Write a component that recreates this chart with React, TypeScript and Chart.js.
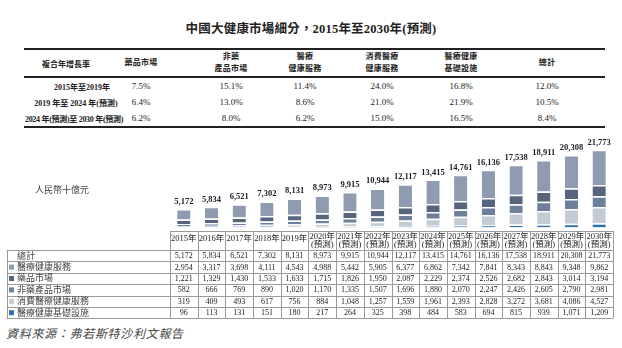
import React, { useEffect, useRef } from "react";
import { Chart, registerables } from "chart.js";

Chart.register(...registerables);

// ---------- DATA ----------
const years = ["2015年", "2016年", "2017年", "2018年", "2019年", "2020年", "2021年", "2022年", "2023年", "2024年", "2025年", "2026年", "2027年", "2028年", "2029年", "2030年"];
const forecastStartIndex = 5; // 2020 onward labelled (預測)
const forecastNote = "(預測)";

const totals = [5172, 5834, 6521, 7302, 8131, 8973, 9915, 10944, 12117, 13415, 14761, 16136, 17538, 18911, 20308, 21773];
const healthServices = [2954, 3317, 3698, 4111, 4543, 4988, 5442, 5905, 6377, 6862, 7342, 7841, 8343, 8843, 9348, 9862];
const pharma = [1221, 1329, 1430, 1533, 1633, 1715, 1826, 1950, 2087, 2229, 2374, 2526, 2682, 2843, 3014, 3194];
const nonPharma = [582, 666, 769, 890, 1020, 1170, 1335, 1507, 1696, 1880, 2070, 2247, 2426, 2605, 2790, 2981];
const consumer = [319, 409, 493, 617, 756, 884, 1048, 1257, 1559, 1961, 2393, 2828, 3272, 3681, 4086, 4527];
const infra = [96, 113, 131, 151, 180, 217, 264, 325, 398, 484, 583, 694, 815, 939, 1071, 1209];

const seriesNames = ["醫療健康服務", "藥品市場", "非藥產品市場", "消費醫療健康服務", "醫療健康基礎設施"];
const totalLabel = "總計";

const title = "中國大健康市場細分，2015年至2030年(預測)";
const unitLabel = "人民幣十億元";
const sourceText = "資料來源：弗若斯特沙利文報告";

const cagrHeader = "複合年增長率";
const cagrColumns = ["藥品市場", "非藥\n產品市場", "醫療\n健康服務", "消費醫療\n健康服務", "醫療健康\n基礎設施", "總計"];
const cagrPeriods = ["2015年至2019年", "2019 年至 2024 年(預測)", "2024 年(預測)至 2030 年(預測)"];
const cagrPharma = ["7.5%", "6.4%", "6.2%"];
const cagrNonPharma = ["15.1%", "13.0%", "8.0%"];
const cagrHealthServices = ["11.4%", "8.6%", "6.2%"];
const cagrConsumer = ["24.0%", "21.0%", "15.0%"];
const cagrInfra = ["16.8%", "21.9%", "16.5%"];
const cagrTotal = ["12.0%", "10.5%", "8.4%"];

// ---------- STYLE ----------
const colors = {
  healthServices: "#8e9bb1",
  pharma: "#56657d",
  nonPharma: "#6c7f9b",
  consumer: "#c3cbd5",
  infra: "#2f6fae",
};
const serif = '"Liberation Serif", "Noto Sans CJK TC", serif';
const fmt = (v: number) => v.toLocaleString("en-US");

const CANVAS_TOP = 130;
const CANVAS_H = 190;

const tablePlugin = {
  id: "tablePlugin",
  afterDraw(chart: any) {
    const { ctx, chartArea, scales } = chart;
    const x = scales.x;
    const n = years.length;
    const colW = (chartArea.right - chartArea.left) / n;
    ctx.save();

    // totals above bars
    const topMeta = chart.getDatasetMeta(chart.data.datasets.length - 1);
    ctx.fillStyle = "#1a1a2a";
    ctx.font = `bold 8.5px ${serif}`;
    ctx.textAlign = "center";
    ctx.textBaseline = "bottom";
    topMeta.data.forEach((bar: any, i: number) => {
      ctx.fillText(fmt(totals[i]), bar.x, bar.y - 3);
    });

    // unit label
    ctx.fillStyle = "#444";
    ctx.font = `9px ${serif}`;
    ctx.textAlign = "left";
    ctx.textBaseline = "middle";
    ctx.fillText(unitLabel, 35, 191 - CANVAS_TOP);

    // data table
    const headTop = 101;
    const headBottom = 120;
    const rowH = 11.4;
    const rows = [totals, healthServices, pharma, nonPharma, consumer, infra];
    const rowLabels = [totalLabel, ...seriesNames];
    const swatches = [null, colors.healthServices, colors.pharma, colors.nonPharma, colors.consumer, colors.infra];
    const tableLeft = 6.5;
    const gridLeft = chartArea.left;
    const gridRight = chartArea.right;
    const tableBottom = headBottom + rowH * rows.length;

    ctx.strokeStyle = "#9a9a9a";
    ctx.lineWidth = 1;
    const hline = (x1: number, x2: number, y: number) => {
      ctx.beginPath();
      ctx.moveTo(x1, Math.round(y) + 0.5);
      ctx.lineTo(x2, Math.round(y) + 0.5);
      ctx.stroke();
    };
    const vline = (xx: number, y1: number, y2: number) => {
      ctx.beginPath();
      ctx.moveTo(Math.round(xx) + 0.5, y1);
      ctx.lineTo(Math.round(xx) + 0.5, y2);
      ctx.stroke();
    };
    hline(gridLeft, gridRight, headTop);
    hline(tableLeft, gridRight, headBottom);
    for (let r = 1; r <= rows.length; r++) hline(tableLeft, gridRight, headBottom + rowH * r);
    vline(tableLeft, headBottom, tableBottom);
    for (let i = 0; i <= n; i++) {
      const xx = i < n ? x.getPixelForValue(i) - colW / 2 : x.getPixelForValue(n - 1) + colW / 2;
      vline(xx, headTop, tableBottom);
    }

    // header years
    ctx.fillStyle = "#222";
    ctx.textAlign = "center";
    ctx.textBaseline = "middle";
    ctx.font = `8.5px ${serif}`;
    years.forEach((yr, i) => {
      const cx = x.getPixelForValue(i);
      if (i >= forecastStartIndex) {
        ctx.fillText(yr, cx, headTop + 5.5);
        ctx.fillText(forecastNote, cx, headTop + 14);
      } else {
        ctx.fillText(yr, cx, headTop + 7.5);
      }
    });

    // rows
    rows.forEach((vals, r) => {
      const cy = headBottom + rowH * (r + 0.5);
      ctx.font = `8px ${serif}`;
      ctx.textAlign = "center";
      ctx.fillStyle = "#222";
      vals.forEach((v, i) => ctx.fillText(fmt(v), x.getPixelForValue(i), cy + 0.5));
      ctx.textAlign = "left";
      ctx.fillStyle = "#444";
      ctx.font = `9px ${serif}`;
      const sw = swatches[r];
      if (sw) {
        ctx.fillStyle = sw;
        ctx.fillRect(9, cy - 2.5, 5, 5);
        ctx.fillStyle = "#444";
      }
      ctx.fillText(rowLabels[r], 17, cy + 0.5);
    });

    ctx.restore();
  },
};

function ChartBlock() {
  const ref = useRef<HTMLCanvasElement | null>(null);
  useEffect(() => {
    if (!ref.current) return;
    const border = { top: 1.5, left: 0, right: 0, bottom: 0 };
    const chart = new Chart(ref.current, {
      type: "bar",
      data: {
        labels: years,
        datasets: [
          { label: seriesNames[4], data: infra, backgroundColor: colors.infra, borderColor: "#fff", borderWidth: border },
          { label: seriesNames[3], data: consumer, backgroundColor: colors.consumer, borderColor: "#fff", borderWidth: border },
          { label: seriesNames[2], data: nonPharma, backgroundColor: colors.nonPharma, borderColor: "#fff", borderWidth: border },
          { label: seriesNames[1], data: pharma, backgroundColor: colors.pharma, borderColor: "#fff", borderWidth: border },
          { label: seriesNames[0], data: healthServices, backgroundColor: colors.healthServices, borderColor: "#fff", borderWidth: border },
        ],
      },
      options: {
        animation: false,
        responsive: false,
        maintainAspectRatio: false,
        layout: { padding: { left: 170, right: 9, top: 10, bottom: 92.5 } },
        plugins: { legend: { display: false }, tooltip: { enabled: false } },
        datasets: { bar: { categoryPercentage: 1, barPercentage: 0.48 } } as any,
        scales: {
          x: { stacked: true, display: false },
          y: { stacked: true, display: false, min: 0, max: 24500 },
        },
      } as any,
      plugins: [tablePlugin],
    });
    return () => chart.destroy();
  }, []);
  return (
    <canvas
      ref={ref}
      width={622}
      height={CANVAS_H}
      style={{ position: "absolute", left: 0, top: CANVAS_TOP, width: 622, height: CANVAS_H }}
    />
  );
}

const cagrColX = [66, 141, 231, 305, 382, 461, 547];
const cagrRowY = [86, 102, 118];
const cagrRowLabelX = [82, 76, 74];
const cagrValues = [cagrPharma, cagrNonPharma, cagrHealthServices, cagrConsumer, cagrInfra, cagrTotal];

function Centered({ x, y, children, style }: any) {
  return (
    <div
      style={{
        position: "absolute",
        left: x - 150,
        top: y,
        width: 300,
        textAlign: "center",
        transform: "translateY(-50%)",
        whiteSpace: "pre",
        ...style,
      }}
    >
      {children}
    </div>
  );
}

export default function App() {
  const rule = (y: number) => (
    <div style={{ position: "absolute", left: 24, width: 581, top: y, height: 2, background: "#222" }} />
  );
  return (
    <div
      style={{
        position: "absolute",
        left: 0,
        top: 0,
        width: 622,
        height: 348,
        background: "#fff",
        fontFamily: serif,
        color: "#222",
        overflow: "hidden",
      }}
    >
      <Centered x={311} y={27} style={{ fontSize: 12.5, fontWeight: 700, letterSpacing: 0.2 }}>
        {title}
      </Centered>
      {rule(48)}
      {rule(76)}
      {rule(126)}
      <Centered x={cagrColX[0]} y={63} style={{ fontSize: 8, fontWeight: 700 }}>
        {cagrHeader}
      </Centered>
      {cagrColumns.map((c, i) => (
        <Centered key={c} x={cagrColX[i + 1]} y={63} style={{ fontSize: 8, fontWeight: 700, lineHeight: "12px", letterSpacing: 0.3 }}>
          {c}
        </Centered>
      ))}
      {cagrPeriods.map((p, r) => (
        <Centered key={p} x={cagrRowLabelX[r]} y={cagrRowY[r]} style={{ fontSize: 8, fontWeight: 700, letterSpacing: r === 2 ? -0.3 : 0 }}>
          {p}
        </Centered>
      ))}
      {cagrValues.map((col, i) =>
        col.map((v, r) => (
          <Centered key={i + "-" + r} x={cagrColX[i + 1]} y={cagrRowY[r]} style={{ fontSize: 9 }}>
            {v}
          </Centered>
        ))
      )}
      <ChartBlock />
      <div
        style={{
          position: "absolute",
          left: 6,
          top: 333,
          transform: "translateY(-50%)",
          fontSize: 12,
          fontStyle: "italic",
          letterSpacing: 0.7,
          color: "#444",
          whiteSpace: "nowrap",
        }}
      >
        {sourceText}
      </div>
    </div>
  );
}
